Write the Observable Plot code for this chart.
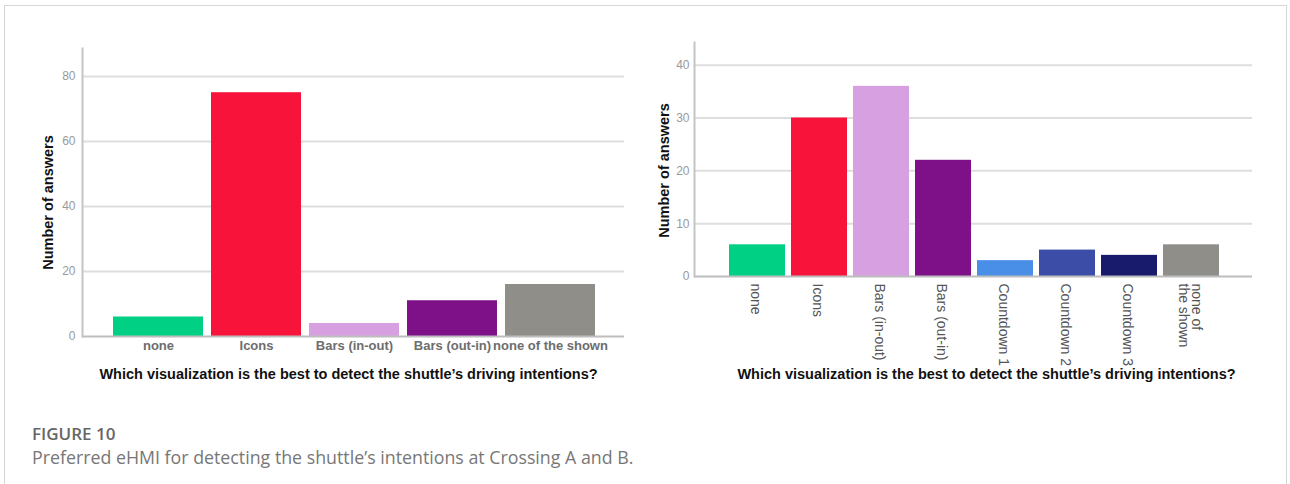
<!DOCTYPE html>
<html>
<head>
<meta charset="utf-8">
<script src="https://cdn.jsdelivr.net/npm/d3@7"></script>
<script src="https://cdn.jsdelivr.net/npm/@observablehq/plot@0.6"></script>
<style>
  html, body { margin: 0; padding: 0; background: #fff; width: 1290px; height: 484px; overflow: hidden; }
  #card { position: absolute; left: 4px; top: 5px; width: 1283px; height: 600px; border: 1px solid #d6d6d6; box-sizing: border-box; }
  #left { position: absolute; left: 0; top: 0; }
  #right { position: absolute; left: 640px; top: 0; }
  #fig { position: absolute; left: 32px; top: 424px; line-height: 20px; font-family: "Open Sans", sans-serif; font-weight: 600; font-size: 17px; color: #666; }
  #cap { position: absolute; left: 32px; top: 447px; line-height: 20px; font-family: "Open Sans", sans-serif; font-size: 17.8px; color: #777; white-space: nowrap; }
</style>
</head>
<body>
<div id="card"></div>
<div id="left"></div>
<div id="right"></div>
<div id="fig">FIGURE 10</div>
<div id="cap">Preferred eHMI for detecting the shuttle’s intentions at Crossing A and B.</div>
<script>
// Crossing A
const catsA = ["none", "Icons", "Bars (in-out)", "Bars (out-in)", "none of the shown"];
const valsA = [6, 75, 4, 11, 16];
const colorsA = ["#00d084", "#f8133b", "#d7a0e0", "#7e1088", "#8f8e89"];
const ticksA = [0, 20, 40, 60, 80];

// Crossing B
const catsB = ["none", "Icons", "Bars (in-out)", "Bars (out-in)", "Countdown 1", "Countdown 2", "Countdown 3", "none of\nthe shown"];
const valsB = [6, 30, 36, 22, 3, 5, 4, 6];
const colorsB = ["#00d084", "#f8133b", "#d7a0e0", "#7e1088", "#4a8fe7", "#3c4da8", "#181a6b", "#8f8e89"];
const ticksB = [0, 10, 20, 30, 40];

const xTitle = "Which visualization is the best to detect the shuttle’s driving intentions?";
const yTitle = "Number of answers";

const font = "Liberation Sans, Arial, Helvetica, sans-serif";

const dataA = catsA.map((c, i) => ({cat: c, val: valsA[i]}));
const dataB = catsB.map((c, i) => ({cat: c, val: valsB[i]}));

const chartA = Plot.plot({
  width: 640, height: 400,
  marginLeft: 82, marginRight: 16, marginTop: 48, marginBottom: 64,
  style: {fontFamily: font, background: "transparent"},
  x: {domain: catsA, range: [108, 599], paddingInner: 0.085, paddingOuter: 0.04, axis: null},
  y: {domain: [0, 88.6], axis: null},
  color: {domain: catsA, range: colorsA},
  marks: [
    Plot.ruleY(ticksA.filter(d => d > 0), {stroke: "#dedede", strokeWidth: 2}),
    Plot.barY(dataA, {x: "cat", y: "val", fill: "cat"}),
    Plot.ruleY([0], {stroke: "#bdbdbd", strokeWidth: 2}),
    Plot.frame({anchor: "left", stroke: "#c4c4c4", strokeWidth: 2}),
    Plot.axisY({ticks: ticksA, tickSize: 0, tickPadding: 7, fill: "#9a9a9a", fontSize: 12, label: null}),
    Plot.axisX({tickSize: 0, tickPadding: 4, fill: "#6d6d6d", fontSize: 13, fontWeight: "bold", label: null}),
    Plot.text([xTitle], {frameAnchor: "bottom", dy: 42, dx: -5, fontSize: 14.5, fontWeight: "bold", fill: "#111"}),
    Plot.text([yTitle], {frameAnchor: "left", textAnchor: "middle", rotate: -90, dx: -34, dy: 10, fontSize: 14.5, fontWeight: "bold", fill: "#111"})
  ]
});
document.getElementById("left").append(chartA);

const chartB = Plot.plot({
  width: 650, height: 400,
  marginLeft: 54, marginRight: 38, marginTop: 42, marginBottom: 124,
  style: {fontFamily: font, background: "transparent"},
  x: {domain: catsB, range: [82, 585], paddingInner: 0.1, paddingOuter: 0.05, axis: null},
  y: {domain: [0, 44.3], axis: null},
  color: {domain: catsB, range: colorsB},
  marks: [
    Plot.ruleY(ticksB.filter(d => d > 0), {stroke: "#dedede", strokeWidth: 2}),
    Plot.barY(dataB, {x: "cat", y: "val", fill: "cat"}),
    Plot.ruleY([0], {stroke: "#bdbdbd", strokeWidth: 2}),
    Plot.frame({anchor: "left", stroke: "#c4c4c4", strokeWidth: 2}),
    Plot.axisY({ticks: ticksB, tickSize: 0, tickPadding: 5, fill: "#9a9a9a", fontSize: 12, label: null}),
    Plot.text(dataB, {x: "cat", text: "cat", frameAnchor: "bottom", rotate: 90, textAnchor: "start", lineAnchor: "middle", dy: 7, dx: -2, fontSize: 14, fill: "#555", lineHeight: 0.95}),
    Plot.text([xTitle], {frameAnchor: "bottom", dy: 102, dx: 13, fontSize: 14.5, fontWeight: "bold", fill: "#111"}),
    Plot.text([yTitle], {frameAnchor: "left", textAnchor: "middle", rotate: -90, dx: -30, dy: 11, fontSize: 14.5, fontWeight: "bold", fill: "#111"})
  ]
});
document.getElementById("right").append(chartB);
</script>
</body>
</html>
